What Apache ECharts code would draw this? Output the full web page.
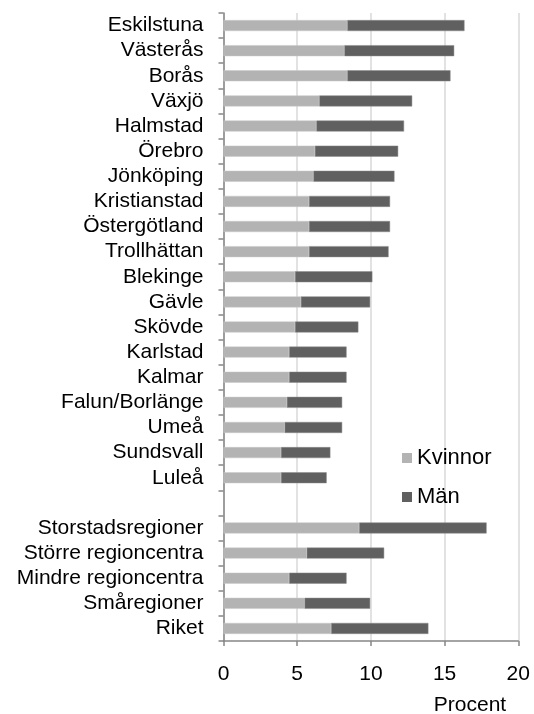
<!DOCTYPE html>
<html>
<head>
<meta charset="utf-8">
<script src="https://cdn.jsdelivr.net/npm/echarts@6/dist/echarts.min.js"></script>
<style>
  html, body { margin: 0; padding: 0; background: #fff; }
  #main { width: 534px; height: 714px; }
</style>
</head>
<body>
<div id="main"></div>
<script>
// kategorier, uppifrån och ned (tom rad skiljer regiontyperna)
var categories = ['Eskilstuna', 'Västerås', 'Borås', 'Växjö', 'Halmstad', 'Örebro', 'Jönköping',
  'Kristianstad', 'Östergötland', 'Trollhättan', 'Blekinge', 'Gävle', 'Skövde', 'Karlstad',
  'Kalmar', 'Falun/Borlänge', 'Umeå', 'Sundsvall', 'Luleå', '',
  'Storstadsregioner', 'Större regioncentra', 'Mindre regioncentra', 'Småregioner', 'Riket']

// andel i procent
var kvinnor = [8.4, 8.2, 8.4, 6.5, 6.3, 6.2, 6.1, 5.8, 5.8, 5.8, 4.85, 5.25, 4.85, 4.45,
  4.45, 4.3, 4.15, 3.9, 3.9, null, 9.2, 5.65, 4.45, 5.5, 7.3]
var man = [7.95, 7.45, 7.0, 6.3, 5.95, 5.65, 5.5, 5.5, 5.5, 5.4, 5.25, 4.7, 4.3, 3.9,
  3.9, 3.75, 3.9, 3.35, 3.1, null, 8.65, 5.25, 3.9, 4.45, 6.6]

var xTicks = [0, 5, 10, 15, 20]

var font = 'Liberation Sans, Arial, sans-serif'
var axisGray = '#868686'

var myChart = echarts.init(document.getElementById('main'))

var option = {
  animation: false,
  textStyle: { fontFamily: font },
  grid: { left: 223.5, right: 15.7, top: 13, bottom: 73 },
  legend: {
    orient: 'vertical',
    left: 397,
    top: 442,
    itemWidth: 10,
    itemHeight: 10,
    itemGap: 17,
    icon: 'rect',
    itemStyle: { borderWidth: 0 },
    textStyle: { fontSize: 22, color: '#000', fontFamily: font },
    data: ['Kvinnor', 'Män']
  },
  xAxis: {
    type: 'value',
    min: xTicks[0],
    max: xTicks[xTicks.length - 1],
    interval: 5,
    axisLine: { show: true, lineStyle: { color: axisGray, width: 1.5 } },
    axisTick: { show: true, length: 5, lineStyle: { color: axisGray, width: 1.5 } },
    axisLabel: { fontSize: 21, color: '#000', margin: 23, fontFamily: font },
    splitLine: { show: true, lineStyle: { color: '#d9d9d9', width: 1.5 } }
  },
  yAxis: {
    type: 'category',
    inverse: true,
    data: categories,
    axisLine: { show: true, lineStyle: { color: axisGray, width: 1.5 } },
    axisTick: { show: true, length: 5, lineStyle: { color: axisGray, width: 1.5 } },
    axisLabel: { fontSize: 21, color: '#000', margin: 20, fontFamily: font, interval: 0 }
  },
  graphic: [{
    type: 'text',
    x: 470,
    y: 705,
    style: {
      text: 'Procent', fontSize: 21, fill: '#000', fontFamily: font,
      align: 'center', verticalAlign: 'middle'
    }
  }],
  series: [
    {
      name: 'Kvinnor',
      type: 'bar',
      stack: 'tot',
      barWidth: 11,
      data: kvinnor,
      itemStyle: { color: '#b3b3b3', borderColor: '#c8c8c8', borderWidth: 0.5 }
    },
    {
      name: 'Män',
      type: 'bar',
      stack: 'tot',
      barWidth: 11,
      data: man,
      itemStyle: { color: '#606060', borderColor: '#8a8a8a', borderWidth: 0.5 }
    }
  ]
}

myChart.setOption(option)
</script>
</body>
</html>
